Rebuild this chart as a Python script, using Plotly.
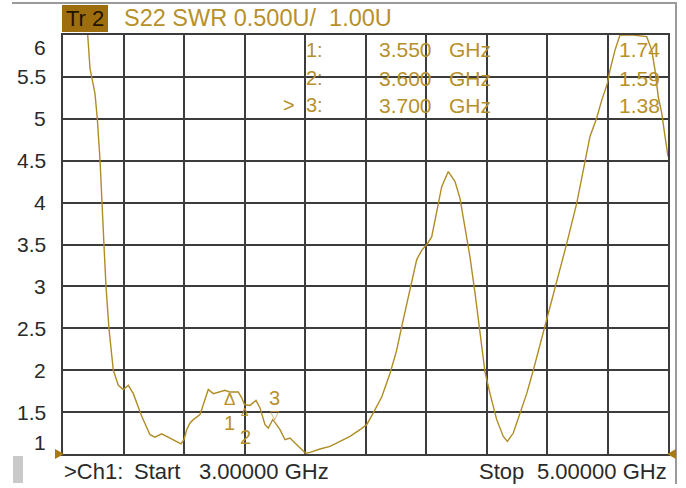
import plotly.graph_objects as go

# ---------------- data ----------------
freq_ghz = [3.000, 3.056, 3.0817, 3.0893, 3.1058, 3.1134, 3.1223, 3.1279, 3.1355, 3.1421,
            3.1521, 3.1663, 3.1828, 3.1993, 3.2159, 3.2324, 3.2602, 3.2876, 3.3041, 3.3263,
            3.3537, 3.3812, 3.390, 3.400, 3.4089, 3.4198, 3.4307, 3.4529, 3.4694, 3.4803,
            3.4969, 3.5134, 3.5355, 3.550, 3.5795, 3.5907, 3.600, 3.6182, 3.638, 3.6512,
            3.6678, 3.6787, 3.6932, 3.700, 3.7174, 3.7339, 3.7504, 3.7669, 3.7835, 3.8023,
            3.8165, 3.8496, 3.8826, 3.9157, 3.9488, 3.9818, 4.0040, 4.0258, 4.0536, 4.0810,
            4.1031, 4.1197, 4.1362, 4.1527, 4.1693, 4.1858, 4.2023, 4.2188, 4.2354, 4.2519,
            4.2737, 4.2959, 4.3124, 4.3289, 4.3455, 4.3620, 4.3785, 4.3950, 4.4116, 4.4337,
            4.4555, 4.4688, 4.4886, 4.5107, 4.5329, 4.5547, 4.5769, 4.5990, 4.6321, 4.6651,
            4.6982, 4.7256, 4.7421, 4.7643, 4.7808, 4.7993, 4.8083, 4.8248, 4.8413, 4.8843,
            4.9296, 4.9461, 4.9570, 4.9679, 4.9792, 4.9901, 5.000]
swr = [7.6, 6.6, 6.0, 5.60, 5.30, 5.0, 4.51, 4.0, 3.49, 3.0,
       2.49, 2.0, 1.82, 1.77, 1.82, 1.72, 1.45, 1.23, 1.20, 1.24,
       1.19, 1.13, 1.12, 1.17, 1.29, 1.37, 1.41, 1.47, 1.64, 1.77,
       1.72, 1.74, 1.76, 1.74, 1.74, 1.67, 1.59, 1.58, 1.64, 1.55,
       1.35, 1.31, 1.41, 1.38, 1.29, 1.17, 1.19, 1.13, 1.07, 1.01,
       1.02, 1.06, 1.09, 1.15, 1.21, 1.29, 1.35, 1.49, 1.68, 1.96,
       2.24, 2.52, 2.80, 3.04, 3.32, 3.43, 3.50, 3.59, 3.87, 4.19,
       4.37, 4.25, 4.05, 3.71, 3.35, 2.92, 2.44, 1.98, 1.72, 1.41,
       1.21, 1.15, 1.25, 1.49, 1.72, 2.00, 2.30, 2.60, 3.04, 3.51,
       3.99, 4.51, 4.79, 5.01, 5.22, 5.42, 5.58, 5.82, 6.0, 6.0,
       5.98, 5.82, 5.58, 5.26, 5.07, 4.79, 4.55]

marker_ids = ["1", "2", "3"]
marker_freqs = [3.550, 3.600, 3.700]
marker_vals = [1.74, 1.59, 1.38]
marker_freq_text = ["3.550", "3.600", "3.700"]
marker_val_text = ["1.74", "1.59", "1.38"]
active_marker = "3"

y_ticks = [6, 5.5, 5, 4.5, 4, 3.5, 3, 2.5, 2, 1.5, 1]
y_tick_labels = ["6", "5.5", "5", "4.5", "4", "3.5", "3", "2.5", "2", "1.5", "1"]

trace_label = "Tr\u00a02"
header_text = "S22 SWR 0.500U/\u00a0 1.00U"
start_text = ["\u003eCh1:", "Start", "3.00000 GHz"]
stop_text = ["Stop", "5.00000 GHz"]

# ---------------- style ----------------
W, H = 686, 488
L, R, T, B = 63, 18, 35, 34
PW, PH = W - L - R, H - T - B
GOLD = "#B8902A"
TRACE = "#B08C25"
GRID = "#3c3c3c"
DARK = "#2a2a2a"
FONT = "Liberation Sans, Arial, sans-serif"


def px(x):
    return (x - L) / PW


def py(y):
    return (H - B - y) / PH


fig = go.Figure()
fig.add_trace(go.Scatter(x=freq_ghz, y=swr, mode="lines",
                         line=dict(color=TRACE, width=1.4), hoverinfo="skip",
                         showlegend=False))

ann = []
# y labels
for v, t in zip(y_ticks, y_tick_labels):
    shift = 0
    if v == max(y_ticks):
        shift = -12
    elif v == min(y_ticks):
        shift = 12
    ann.append(dict(x=0, xref="paper", y=v, yref="y", text=t, showarrow=False,
                    xanchor="right", yanchor="middle", xshift=-15, yshift=shift,
                    font=dict(family=FONT, size=21, color=DARK)))

# header
ann.append(dict(x=px(85), y=py(18.5), xref="paper", yref="paper", text=trace_label,
                showarrow=False, xanchor="center", yanchor="middle",
                font=dict(family=FONT, size=22, color="#1e1400")))
ann.append(dict(x=px(122), y=py(18.5), xref="paper", yref="paper", text=header_text,
                showarrow=False, xanchor="left", yanchor="middle",
                font=dict(family=FONT, size=23.5, color=GOLD)))

# marker table
row_y = [50, 78, 105]
for i, mid in enumerate(marker_ids):
    ann.append(dict(x=px(304), y=py(row_y[i]), xref="paper", yref="paper",
                    text=mid + ":", showarrow=False, xanchor="left", yanchor="middle",
                    font=dict(family=FONT, size=20, color=GOLD)))
    if mid == active_marker:
        ann.append(dict(x=px(297), y=py(row_y[i]), xref="paper", yref="paper",
                        text="&gt;", showarrow=False, xanchor="right", yanchor="middle",
                        font=dict(family=FONT, size=20, color=GOLD)))
    ann.append(dict(x=px(377), y=py(row_y[i]), xref="paper", yref="paper",
                    text=marker_freq_text[i], showarrow=False,
                    xanchor="left", yanchor="middle",
                    font=dict(family=FONT, size=21, color=GOLD)))
    ann.append(dict(x=px(493), y=py(row_y[i]), xref="paper", yref="paper",
                    text="GHz", showarrow=False,
                    xanchor="right", yanchor="middle",
                    font=dict(family=FONT, size=21, color=GOLD)))
    ann.append(dict(x=px(662), y=py(row_y[i]), xref="paper", yref="paper",
                    text=marker_val_text[i], showarrow=False, xanchor="right",
                    yanchor="middle", font=dict(family=FONT, size=21, color=GOLD)))

# markers on trace
for mid, f, v in zip(marker_ids, marker_freqs, marker_vals):
    if mid == active_marker:
        ann.append(dict(x=f, y=v, xref="x", yref="y", text="\u25bd", showarrow=False,
                        xanchor="center", yanchor="bottom", yshift=-2,
                        font=dict(family=FONT, size=12, color=GOLD)))
        ann.append(dict(x=f, y=v, xref="x", yref="y", text=mid, showarrow=False,
                        xanchor="center", yanchor="middle", yshift=24,
                        font=dict(family=FONT, size=20, color=GOLD)))
    else:
        small = mid == "2"
        ann.append(dict(x=f, y=v, xref="x", yref="y", text="\u0394", showarrow=False,
                        xanchor="center", yanchor="top", yshift=4 if not small else 1,
                        font=dict(family=FONT, size=11 if small else 17, color=GOLD)))
        ann.append(dict(x=f, y=v, xref="x", yref="y", text=mid, showarrow=False,
                        xanchor="center", yanchor="middle",
                        yshift=-31 if not small else -32,
                        xshift=0 if not small else 1,
                        font=dict(family=FONT, size=20, color=GOLD)))

# bottom text
for txt, xpos, anchor in [(start_text[0], 62, "left"), (start_text[1], 132, "left"),
                          (start_text[2], 197, "left"), (stop_text[0], 477, "left"),
                          (stop_text[1], 669, "right")]:
    ann.append(dict(x=px(xpos), y=py(471), xref="paper", yref="paper", text=txt,
                    showarrow=False, xanchor=anchor, yanchor="middle",
                    font=dict(family=FONT, size=22, color=DARK)))

shapes = [
    # Tr 2 box
    dict(type="rect", xref="paper", yref="paper", x0=px(62), x1=px(108),
         y0=py(32), y1=py(5), fillcolor="#9E6D0E", line=dict(width=0), layer="below"),
    # outer frame lines
    dict(type="line", xref="paper", yref="paper", x0=px(12), x1=px(677),
         y0=py(3), y1=py(3), line=dict(color="#9a9a9a", width=2)),
    dict(type="line", xref="paper", yref="paper", x0=px(676), x1=px(676),
         y0=py(3), y1=py(484), line=dict(color="#9a9a9a", width=2)),
    # gray bar bottom-left
    dict(type="rect", xref="paper", yref="paper", x0=px(13), x1=px(23),
         y0=py(483), y1=py(456), fillcolor="#c9c9c9", line=dict(width=0)),
    # reference triangles
    dict(type="path", xref="paper", yref="paper", xsizemode="pixel", ysizemode="pixel",
         xanchor=0, yanchor=0, path="M -8,5 L 1,0 L -8,-5 Z",
         fillcolor="#A87A12", line=dict(width=0)),
    dict(type="path", xref="paper", yref="paper", xsizemode="pixel", ysizemode="pixel",
         xanchor=1, yanchor=0, path="M 8,5 L -1,0 L 8,-5 Z",
         fillcolor="#A87A12", line=dict(width=0)),
]

fig.update_layout(
    width=W, height=H,
    margin=dict(l=L, r=R, t=T, b=B, pad=0),
    paper_bgcolor="white", plot_bgcolor="white",
    xaxis=dict(range=[3, 5], dtick=0.2, tick0=3, showgrid=True, gridcolor=GRID,
               gridwidth=1.5, showline=True, linecolor=GRID, linewidth=1.5, mirror=True,
               showticklabels=False, ticks="", zeroline=False, fixedrange=True),
    yaxis=dict(range=[1, 6], dtick=0.5, tick0=1, showgrid=True, gridcolor=GRID,
               gridwidth=1.5, showline=True, linecolor=GRID, linewidth=1.5, mirror=True,
               showticklabels=False, ticks="", zeroline=False, fixedrange=True),
    annotations=ann,
    shapes=shapes,
    showlegend=False,
)

fig.write_html("out.html", config={"displayModeBar": False},
               post_script="document.body.style.margin='0';document.body.style.padding='0';")
